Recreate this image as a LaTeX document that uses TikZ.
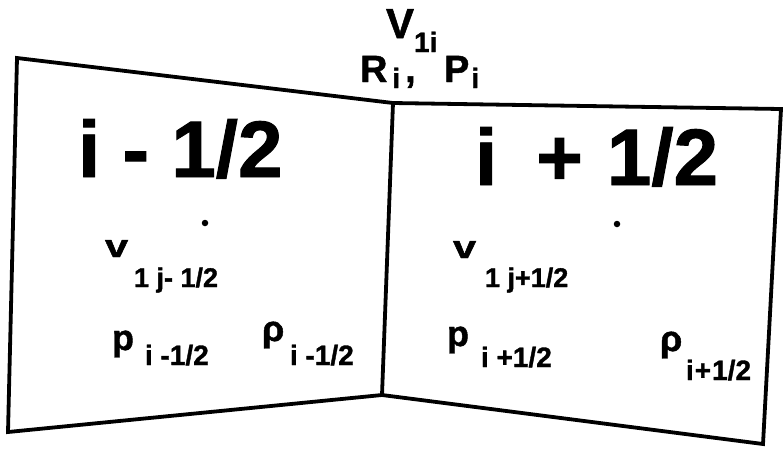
\documentclass[tikz,border=0pt]{standalone}
\usepackage{fontspec}
\setmainfont{Liberation Sans}[BoldFeatures={FakeBold=1.2}]
\newcommand\Fs[1]{\fontsize{#1}{#1}\selectfont}
\tikzset{
  lbl/.style={anchor=base west, inner sep=0pt, outer sep=0pt, font=\bfseries},
  cellline/.style={line width=3.8pt, line join=miter, black},
  dotn/.style={circle, fill=black, inner sep=0pt, minimum size=6.5pt},
}
\begin{document}
\begin{tikzpicture}[x=1pt,y=-1pt]
\useasboundingbox (0,0) rectangle (783,448);
% corners
\coordinate (TL) at (17,58);
\coordinate (TM) at (393,103);
\coordinate (TR) at (781,109);
\coordinate (BL) at (8,432);
\coordinate (BM) at (382,395);
\coordinate (BR) at (763,444);
\draw[cellline] (TL) -- (TM) -- (BM) -- (BL) -- cycle;
\draw[cellline] (TM) -- (TR) -- (BR) -- (BM);
% big labels
\node[lbl] (hm) at (78,177) {\Fs{80}i - 1/2};
\node[lbl] (hp) at (475,185) {\Fs{80}i\hspace{39pt}+\hspace{24pt}1/2};
% top labels
\node[lbl] (V) at (386,38) {\Fs{42}V\raisebox{-14pt}{\Fs{28}1i}};
\node[lbl] (R) at (360,82) {\Fs{38}R\kern5pt\raisebox{-6pt}{\Fs{28}i}\kern5pt,};
\node[lbl] (P) at (444,82) {\Fs{38}P\kern2pt\raisebox{-6pt}{\Fs{28}i}};
% dots
\node[dotn] (dL) at (205,223) {};
\node[dotn] (dR) at (617,224) {};
% left cell
\node[lbl] (vL) at (105,257) {\Fs{32}\scalebox{1.3}[1]{v}};
\node[lbl] (vLs) at (134,287) {\Fs{27}1 j- 1/2};
\node[lbl] (pL) at (112,350) {\Fs{36}p};
\node[lbl] (pLs) at (145,365) {\Fs{28}i -1/2};
\node[lbl] (rL) at (262,341) {\Fs{36}ρ};
\node[lbl] (rLs) at (290,365) {\Fs{28}i -1/2};
% right cell
\node[lbl] (vR) at (453,258) {\Fs{32}\scalebox{1.3}[1]{v}};
\node[lbl] (vRs) at (485,287) {\Fs{27}1 j+1/2};
\node[lbl] (pR) at (447,346) {\Fs{36}p};
\node[lbl] (pRs) at (481,367) {\Fs{28}i +1/2};
\node[lbl] (rR) at (660,351) {\Fs{36}ρ};
\node[lbl] (rRs) at (686,380) {\Fs{28}i\kern1pt+\kern1pt1/2};
\end{tikzpicture}
\end{document}
